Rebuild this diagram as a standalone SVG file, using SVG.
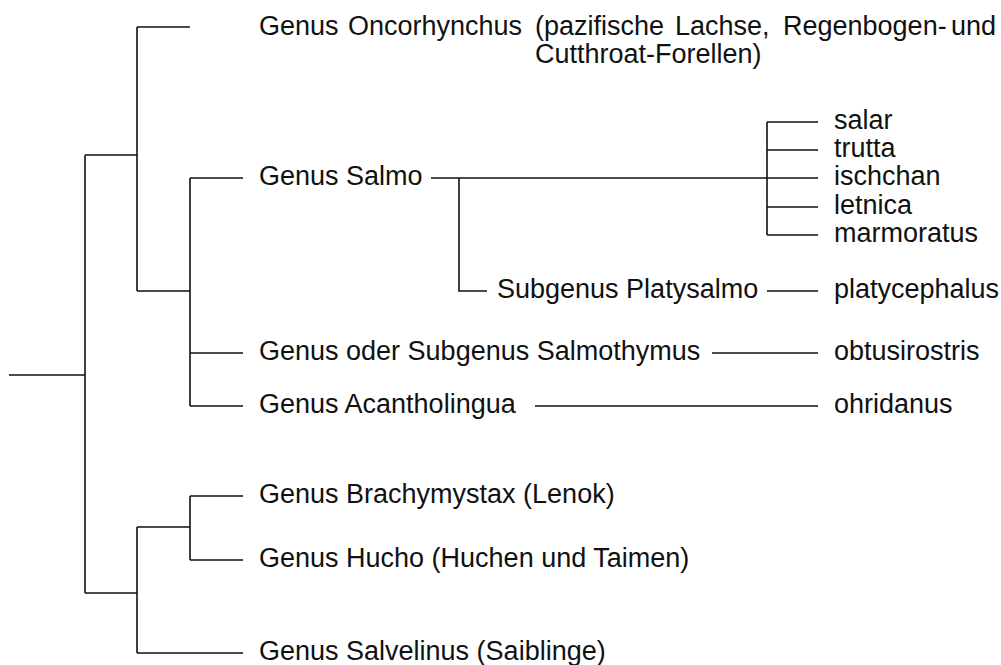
<svg xmlns="http://www.w3.org/2000/svg" width="1001" height="665" viewBox="0 0 1001 665">
  <style>
    .ln { fill: none; stroke: #111; stroke-width: 1.6; }
    text { font-family: "Liberation Sans", Arial, sans-serif; font-size: 27px; fill: #111; }
  </style>
  <rect width="1001" height="665" fill="#fff"/>

  <!-- tree connectors -->
  <g id="connectors">
    <!-- root -->
    <path class="ln" d="M9,375 H85 M85,155 V593"/>
    <!-- upper clade -->
    <path class="ln" d="M85,155 H137 M137,27 V291 M137,27 H190"/>
    <path class="ln" d="M137,291 H190 M190,178 V406"/>
    <path class="ln" d="M190,178 H243 M190,353 H243 M190,406 H243"/>
    <!-- Salmo -->
    <path class="ln" d="M431,178 H818 M459,178 V291 H487"/>
    <path class="ln" d="M767,122 V235 M767,122 H818 M767,150 H818 M767,207 H818 M767,235 H818"/>
    <path class="ln" d="M767,291 H818"/>
    <path class="ln" d="M712,353 H818"/>
    <path class="ln" d="M535,406 H818"/>
    <!-- lower clade -->
    <path class="ln" d="M85,593 H137 M137,527 V653 M137,653 H243"/>
    <path class="ln" d="M137,527 H190 M190,496 V560 M190,496 H243 M190,560 H243"/>
  </g>

  <g id="oncorhynchus">
    <text y="35"><tspan x="259">Genus</tspan><tspan x="348">Oncorhynchus</tspan><tspan x="535">(pazifische</tspan><tspan x="675">Lachse,</tspan><tspan x="783">Regenbogen-</tspan></text>
    <text x="996" y="35" text-anchor="end">und</text>
    <text x="535" y="63">Cutthroat-Forellen)</text>
  </g>
  <g id="salmo"><text x="259" y="185">Genus Salmo</text></g>
  <g id="platysalmo"><text x="497" y="298">Subgenus Platysalmo</text></g>
  <g id="salmothymus"><text x="259" y="360">Genus oder Subgenus Salmothymus</text></g>
  <g id="acantholingua"><text x="259" y="413">Genus Acantholingua</text></g>
  <g id="brachymystax"><text x="259" y="503">Genus Brachymystax (Lenok)</text></g>
  <g id="hucho"><text x="259" y="567">Genus Hucho (Huchen und Taimen)</text></g>
  <g id="salvelinus"><text x="259" y="660">Genus Salvelinus (Saiblinge)</text></g>

  <g id="species">
    <text x="834" y="129">salar</text>
    <text x="834" y="157">trutta</text>
    <text x="834" y="185">ischchan</text>
    <text x="834" y="214">letnica</text>
    <text x="834" y="242">marmoratus</text>
    <text x="834" y="298">platycephalus</text>
    <text x="834" y="360">obtusirostris</text>
    <text x="834" y="413">ohridanus</text>
  </g>
</svg>
